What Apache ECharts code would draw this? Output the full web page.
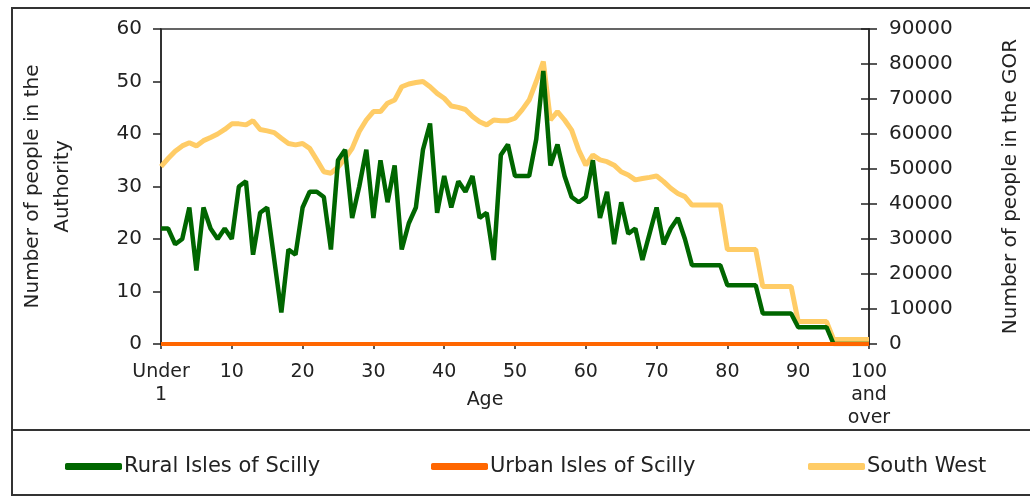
<!DOCTYPE html>
<html>
<head>
<meta charset="utf-8">
<script src="https://cdn.jsdelivr.net/npm/echarts@6/dist/echarts.min.js"></script>
<style>
html, body { margin: 0; padding: 0; background: #fff; }
#main { width: 1030px; height: 497px; }
</style>
</head>
<body>
<div id="main"></div>
<script>
// age bands: Under 1, 1 ... 99, 100 and over
var ages = ['Under 1'];
for (var i = 1; i < 100; i++) ages.push(String(i));
ages.push('100 and over');

var rural = [
    22, 22, 19, 20, 26, 14, 26, 22, 20, 22,
    20, 30, 31, 17, 25, 26, 16, 6, 18, 17,
    26, 29, 29, 28, 18, 35, 37, 24, 30, 37,
    24, 35, 27, 34, 18, 23, 26, 37, 42, 25,
    32, 26, 31, 29, 32, 24, 25, 16, 36, 38,
    32, 32, 32, 39, 52, 34, 38, 32, 28, 27,
    28, 35, 24, 29, 19, 27, 21, 22, 16, 21,
    26, 19, 22, 24, 20, 15, 15, 15, 15, 15,
    11.2, 11.2, 11.2, 11.2, 11.2, 5.8, 5.8, 5.8, 5.8, 5.8,
    3.2, 3.2, 3.2, 3.2, 3.2, 0, 0, 0, 0, 0,
    0
];

var urban = [
    0, 0, 0, 0, 0, 0, 0, 0, 0, 0,
    0, 0, 0, 0, 0, 0, 0, 0, 0, 0,
    0, 0, 0, 0, 0, 0, 0, 0, 0, 0,
    0, 0, 0, 0, 0, 0, 0, 0, 0, 0,
    0, 0, 0, 0, 0, 0, 0, 0, 0, 0,
    0, 0, 0, 0, 0, 0, 0, 0, 0, 0,
    0, 0, 0, 0, 0, 0, 0, 0, 0, 0,
    0, 0, 0, 0, 0, 0, 0, 0, 0, 0,
    0, 0, 0, 0, 0, 0, 0, 0, 0, 0,
    0, 0, 0, 0, 0, 0, 0, 0, 0, 0,
    0
];

var southWest = [
    50700, 53000, 55100, 56600, 57500, 56600, 58100, 59000, 60000, 61300,
    62900, 62900, 62600, 63800, 61300, 60900, 60400, 58800, 57300, 56900,
    57300, 55900, 52600, 49200, 48800, 50500, 53000, 55900, 60700, 64000,
    66400, 66400, 68800, 69700, 73500, 74300, 74700, 75000, 73500, 71600,
    70200, 68000, 67600, 67000, 65000, 63500, 62600, 64000, 63800, 63800,
    64500, 66900, 69700, 75000, 80700, 64000, 66400, 64000, 61100, 55400,
    51100, 54000, 52600, 52100, 51100, 49200, 48300, 46900, 47300, 47600,
    48000, 46400, 44500, 43000, 42100, 39700, 39700, 39700, 39700, 39700,
    27000, 27000, 27000, 27000, 27000, 16400, 16400, 16400, 16400, 16400,
    6400, 6400, 6400, 6400, 6400, 1300, 1300, 1300, 1300, 1300,
    1300
];

var font = 'DejaVu Sans';
var ink = '#222';

function every10(idx) { return idx % 10 === 0; }

var option = {
    animation: false,
    textStyle: { fontFamily: font },
    graphic: [
        { type: 'rect', shape: { x: 12, y: 8, width: 1030, height: 487 },
          style: { fill: 'none', stroke: '#333', lineWidth: 2 }, silent: true },
        { type: 'line', shape: { x1: 12, y1: 430, x2: 1030, y2: 430 },
          style: { stroke: '#333', lineWidth: 2 }, silent: true }
    ],
    grid: {
        left: 161, right: 161, top: 29, bottom: 153,
        outerBoundsMode: 'none',
        show: true, borderColor: '#333', borderWidth: 1.5
    },
    legend: [
        { data: ['Rural Isles of Scilly'], left: 60, top: 451 },
        { data: ['Urban Isles of Scilly'], left: 426, top: 451 },
        { data: ['South West'], left: 803, top: 451 }
    ].map(function (l) {
        l.icon = 'roundRect';
        l.itemWidth = 57;
        l.itemHeight = 7;
        l.itemGap = 0;
        l.textStyle = { fontFamily: font, fontSize: 21, color: ink, padding: [0, 0, 0, -3] };
        return l;
    }),
    xAxis: {
        type: 'category',
        data: ages,
        boundaryGap: false,
        name: 'Age',
        nameLocation: 'middle',
        nameGap: 47,
        nameMoveOverlap: false,
        nameTextStyle: { fontFamily: font, fontSize: 19, color: ink, padding: [0, 60, 0, 0] },
        axisLine: { lineStyle: { color: ink, width: 1.5 } },
        axisTick: { interval: every10, length: 5, lineStyle: { color: ink, width: 1.5 } },
        axisLabel: {
            interval: every10,
            margin: 17,
            fontFamily: font, fontSize: 19, color: ink, lineHeight: 23,
            formatter: function (v) { return v.split(' ').join('\n'); }
        },
        splitLine: { show: false }
    },
    yAxis: [
        {
            type: 'value', position: 'left',
            min: 0, max: 60, interval: 10,
            name: 'Number of people in the\nAuthority',
            nameLocation: 'middle', nameRotate: 90, nameGap: 83,
            nameTextStyle: { fontFamily: font, fontSize: 20, color: ink, lineHeight: 30 },
            axisLine: { show: true, lineStyle: { color: ink, width: 1.5 } },
            axisTick: { show: true, length: 8, lineStyle: { color: ink, width: 1.5 } },
            axisLabel: { margin: 19, fontFamily: font, fontSize: 20, color: ink },
            splitLine: { show: false }
        },
        {
            type: 'value', position: 'right',
            min: 0, max: 90000, interval: 10000,
            name: 'Number of people in the GOR',
            nameLocation: 'middle', nameRotate: 90, nameGap: 130,
            nameTextStyle: { fontFamily: font, fontSize: 20, color: ink, lineHeight: 24 },
            axisLine: { show: true, lineStyle: { color: ink, width: 1.5 } },
            axisTick: { show: true, length: 8, lineStyle: { color: ink, width: 1.5 } },
            axisLabel: {
                margin: 20, fontFamily: font, fontSize: 20, color: ink,
                formatter: function (v) { return String(v); }
            },
            splitLine: { show: false }
        },
        {
            // inner half of the crossing ticks on the right axis
            type: 'value', position: 'right',
            min: 0, max: 90000, interval: 10000,
            axisLine: { show: false },
            axisTick: { show: true, inside: true, length: 8, lineStyle: { color: ink, width: 1.5 } },
            axisLabel: { show: false },
            splitLine: { show: false }
        }
    ],
    series: [
        {
            name: 'Rural Isles of Scilly', type: 'line', data: rural,
            yAxisIndex: 0, symbol: 'none', z: 3,
            itemStyle: { color: '#006600' },
            lineStyle: { color: '#006600', width: 4.5 }
        },
        {
            name: 'Urban Isles of Scilly', type: 'line', data: urban,
            yAxisIndex: 0, symbol: 'none', z: 4,
            itemStyle: { color: '#ff6600' },
            lineStyle: { color: '#ff6600', width: 4 }
        },
        {
            name: 'South West', type: 'line', data: southWest,
            yAxisIndex: 1, symbol: 'none', z: 2,
            itemStyle: { color: '#ffcc66' },
            lineStyle: { color: '#ffcc66', width: 5 }
        }
    ]
};

var myChart = echarts.init(document.getElementById('main'));
myChart.setOption(option);
</script>
</body>
</html>
